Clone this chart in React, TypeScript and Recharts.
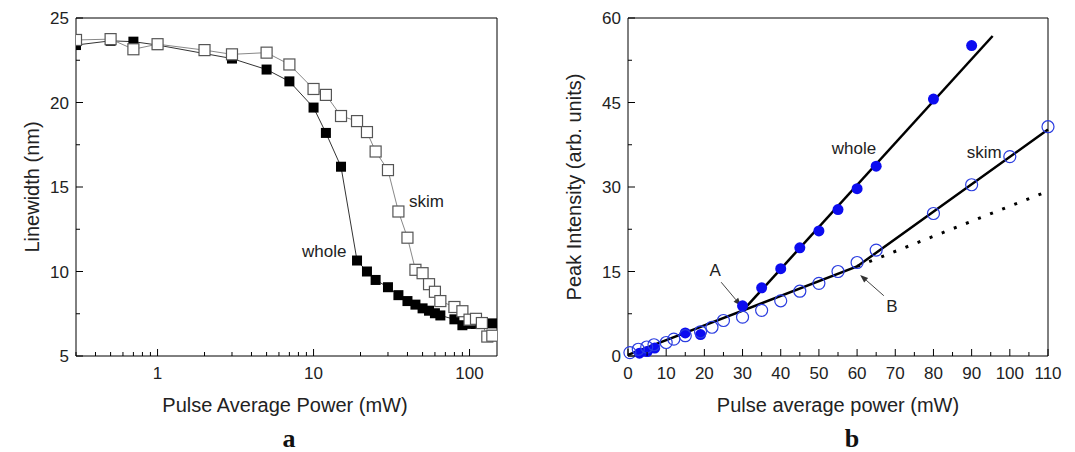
import { ComposedChart, Scatter, Line, XAxis, YAxis, ReferenceDot, ReferenceLine } from 'recharts'

// panel a: linewidth vs pulse average power (log x)
const wholePowerA = [0.3, 0.5, 0.7, 1, 3, 5, 7, 10, 12, 15, 19, 22, 25, 30, 35, 40, 45, 50, 55, 60, 65, 80, 90, 100, 110, 120, 140]
const wholeWidthA = [23.4, 23.65, 23.6, 23.4, 22.6, 21.95, 21.25, 19.7, 18.2, 16.2, 10.65, 10.0, 9.5, 9.07, 8.6, 8.25, 8.04, 7.82, 7.68, 7.53, 7.4, 7.17, 6.82, 6.9, 6.9, 6.9, 6.93]
const skimPowerA = [0.3, 0.5, 0.7, 1, 2, 3, 5, 7, 10, 12, 15, 19, 22, 25, 30, 35, 40, 45, 50, 55, 60, 65, 80, 90, 100, 110, 120, 130, 140]
const skimWidthA = [23.7, 23.75, 23.15, 23.45, 23.1, 22.85, 22.95, 22.25, 20.8, 20.45, 19.2, 18.9, 18.25, 17.1, 16.0, 13.55, 12.0, 10.1, 9.9, 9.25, 8.8, 8.25, 7.9, 7.65, 7.15, 7.2, 6.95, 6.15, 6.2]

const xTicksA = [0.3, 0.4, 0.5, 0.6, 0.7, 0.8, 0.9, 1, 2, 3, 4, 5, 6, 7, 8, 9, 10, 20, 30, 40, 50, 60, 70, 80, 90, 100]
const xLabelsA = [1, 10, 100]
const yTicksA = [5, 7.5, 10, 12.5, 15, 17.5, 20, 22.5, 25]
const yLabelsA = [5, 10, 15, 20, 25]

// panel b: peak intensity vs pulse average power
const wholePowerB = [3, 5, 7, 15, 19, 30, 35, 40, 45, 50, 55, 60, 65, 80, 90]
const wholeIntB = [0.5, 0.8, 1.4, 4.1, 3.8, 8.9, 12.1, 15.5, 19.2, 22.2, 26.0, 29.7, 33.7, 45.6, 55.1]
const skimPowerB = [0.5, 2.7, 4.9, 6.8, 10, 12, 15, 19, 22, 25, 30, 35, 40, 45, 50, 55, 60, 65, 80, 90, 100, 110]
const skimIntB = [0.6, 1.2, 1.6, 2.0, 2.4, 3.0, 3.6, 4.3, 5.1, 6.3, 6.9, 8.1, 9.8, 11.5, 12.9, 15.0, 16.6, 18.8, 25.3, 30.4, 35.4, 40.7]

const wholeFitX = [30, 95.5]
const wholeFitY = [8.0, 56.8]
const skimFitX = [0, 60, 110]
const skimFitY = [0.2, 15.9, 40.2]
const extrapX = [60, 109]
const extrapY = [15.9, 29.0]

const xTicksB = [0, 5, 10, 15, 20, 25, 30, 35, 40, 45, 50, 55, 60, 65, 70, 75, 80, 85, 90, 95, 100, 105, 110]
const xLabelsB = [0, 10, 20, 30, 40, 50, 60, 70, 80, 90, 100, 110]
const yTicksB = [0, 7.5, 15, 22.5, 30, 37.5, 45, 52.5, 60]
const yLabelsB = [0, 15, 30, 45, 60]

const zip = (xs: number[], ys: number[]) => xs.map((x, i) => ({ x, y: ys[i] }))

const wholeA = zip(wholePowerA, wholeWidthA)
const skimA = zip(skimPowerA, skimWidthA)
const wholeB = zip(wholePowerB, wholeIntB)
const skimB = zip(skimPowerB, skimIntB)
const wholeFit = zip(wholeFitX, wholeFitY)
const skimFit = zip(skimFitX, skimFitY)
const extrap = zip(extrapX, extrapY)

const FONT = 'Arial, "Liberation Sans", sans-serif'
const H = 452
const TOP = 18
const BOTTOM_Y = 356

function xTick(labels: number[]) {
  return (p: any) => {
    const major = labels.includes(p.payload.value)
    return (
      <g>
        <line x1={p.x} x2={p.x} y1={BOTTOM_Y} y2={BOTTOM_Y - (major ? 7 : 4)} stroke='#000' strokeWidth={1} />
        {major && (
          <text x={p.x} y={BOTTOM_Y + 23} textAnchor='middle' fontSize={17} fontFamily={FONT} fill='#222'>
            {p.payload.value}
          </text>
        )}
      </g>
    )
  }
}

function yTick(labels: number[], axisX: number) {
  return (p: any) => {
    const major = labels.includes(p.payload.value)
    return (
      <g>
        <line x1={axisX} x2={axisX + (major ? 7 : 4)} y1={p.y} y2={p.y} stroke='#000' strokeWidth={1} />
        {major && (
          <text x={axisX - 7} y={p.y + 6} textAnchor='end' fontSize={17} fontFamily={FONT} fill='#222'>
            {p.payload.value}
          </text>
        )}
      </g>
    )
  }
}

const filledSquare = (p: any) => <rect x={p.cx - 5} y={p.cy - 5} width={10} height={10} fill='#000' />
const openSquare = (p: any) => (
  <rect x={p.cx - 5.5} y={p.cy - 5.5} width={11} height={11} fill='#fff' stroke='#555' strokeWidth={1.2} />
)
const filledCircle = (p: any) => <circle cx={p.cx} cy={p.cy} r={5.5} fill='#0c0cf0' />
const openCircle = (p: any) => <circle cx={p.cx} cy={p.cy} r={6} fill='none' stroke='#2b3de0' strokeWidth={1.2} />

const arrow = (p: any) => {
  const { x1, y1, x2, y2 } = p
  const a = Math.atan2(y2 - y1, x2 - x1)
  const L = 8
  const w = 3
  const bx = x2 - L * Math.cos(a)
  const by = y2 - L * Math.sin(a)
  const pts = `${x2},${y2} ${bx - w * Math.sin(a)},${by + w * Math.cos(a)} ${bx + w * Math.sin(a)},${by - w * Math.cos(a)}`
  return (
    <g>
      <line x1={x1} y1={y1} x2={bx} y2={by} stroke='#444' strokeWidth={1} />
      <polygon points={pts} fill='#333' />
    </g>
  )
}

const lbl = (value: string) => ({ value, position: 'center' as const, fontSize: 17, fill: '#222', fontFamily: FONT })

function Title({ x, y, text, rotate, style }: { x: number; y: number; text: string; rotate?: boolean; style?: any }) {
  return (
    <div
      style={{
        position: 'absolute',
        left: x,
        top: y,
        transform: `translate(-50%, -50%)${rotate ? ' rotate(-90deg)' : ''}`,
        whiteSpace: 'nowrap',
        fontFamily: FONT,
        fontSize: 20,
        lineHeight: 1,
        color: '#222',
        ...style,
      }}
    >
      {text}
    </div>
  )
}

// axes are 1px wide/high (recharts skips 0-sized axes), margins take the rest
function PanelA() {
  const left = 76
  return (
    <ComposedChart width={540} height={H} margin={{ top: TOP - 1, left: left - 1, right: 42, bottom: H - BOTTOM_Y - 1 }}>
      <XAxis
        dataKey='x'
        type='number'
        scale='log'
        domain={[0.3, 150]}
        ticks={xTicksA}
        height={1}
        stroke='#000'
        tickLine={false}
        tick={xTick(xLabelsA)}
        interval={0}
        allowDataOverflow
      />
      <XAxis xAxisId='top' orientation='top' type='number' scale='log' domain={[0.3, 150]} height={1} stroke='#000' tick={false} tickLine={false} allowDataOverflow />
      <YAxis dataKey='y' type='number' domain={[5, 25]} ticks={yTicksA} width={1} stroke='#000' tickLine={false} tick={yTick(yLabelsA, left)} interval={0} />
      <YAxis yAxisId='right' orientation='right' type='number' domain={[5, 25]} width={1} stroke='#000' tick={false} tickLine={false} />
      <Scatter data={wholeA} shape={filledSquare} line={{ stroke: '#333', strokeWidth: 1 }} lineType='joint' isAnimationActive={false} />
      <Scatter data={skimA} shape={openSquare} line={{ stroke: '#888', strokeWidth: 1 }} lineType='joint' isAnimationActive={false} />
      <ReferenceDot x={11.7} y={11.2} r={0} fill='none' stroke='none' label={lbl('whole')} />
      <ReferenceDot x={53} y={14.2} r={0} fill='none' stroke='none' label={lbl('skim')} />
    </ComposedChart>
  )
}

function PanelB() {
  const left = 88
  return (
    <ComposedChart width={535} height={H} margin={{ top: TOP - 1, left: left - 1, right: 26, bottom: H - BOTTOM_Y - 1 }}>
      <XAxis
        dataKey='x'
        type='number'
        domain={[0, 110]}
        ticks={xTicksB}
        height={1}
        stroke='#000'
        tickLine={false}
        tick={xTick(xLabelsB)}
        interval={0}
      />
      <XAxis xAxisId='top' orientation='top' type='number' domain={[0, 110]} height={1} stroke='#000' tick={false} tickLine={false} />
      <YAxis dataKey='y' type='number' domain={[0, 60]} ticks={yTicksB} width={1} stroke='#000' tickLine={false} tick={yTick(yLabelsB, left)} interval={0} />
      <YAxis yAxisId='right' orientation='right' type='number' domain={[0, 60]} width={1} stroke='#000' tick={false} tickLine={false} />
      <Scatter data={wholeB} shape={filledCircle} isAnimationActive={false} />
      <Scatter data={skimB} shape={openCircle} isAnimationActive={false} />
      <Line data={wholeFit} dataKey='y' stroke='#000' strokeWidth={2.5} dot={false} type='linear' isAnimationActive={false} />
      <Line data={skimFit} dataKey='y' stroke='#000' strokeWidth={2.5} dot={false} type='linear' isAnimationActive={false} />
      <Line data={extrap} dataKey='y' stroke='#000' strokeWidth={3} strokeDasharray='3 10' dot={false} type='linear' isAnimationActive={false} />
      <ReferenceLine segment={[{ x: 24.4, y: 13.1 }, { x: 29.6, y: 8.9 }]} shape={arrow} />
      <ReferenceLine segment={[{ x: 67.0, y: 10.7 }, { x: 60.8, y: 14.4 }]} shape={arrow} />
      <ReferenceDot x={22.8} y={15.3} r={0} fill='none' stroke='none' label={lbl('A')} />
      <ReferenceDot x={69.1} y={8.9} r={0} fill='none' stroke='none' label={lbl('B')} />
      <ReferenceDot x={59.2} y={36.9} r={0} fill='none' stroke='none' label={lbl('whole')} />
      <ReferenceDot x={93.3} y={36.2} r={0} fill='none' stroke='none' label={lbl('skim')} />
    </ComposedChart>
  )
}

const letterStyle = { fontFamily: '"Liberation Serif", "Times New Roman", serif', fontWeight: 'bold', fontSize: 26, color: '#111' }

export default function App() {
  return (
    <div style={{ position: 'absolute', left: 0, top: 0, width: 1075, height: H, background: '#fff', overflow: 'hidden' }}>
      <div style={{ position: 'absolute', left: 0, top: 0 }}>
        <PanelA />
      </div>
      <div style={{ position: 'absolute', left: 540, top: 0 }}>
        <PanelB />
      </div>
      <Title x={32} y={187} text='Linewidth (nm)' rotate />
      <Title x={285} y={405} text='Pulse Average Power (mW)' />
      <Title x={574} y={187} text='Peak Intensity (arb. units)' rotate />
      <Title x={838} y={405} text='Pulse average power (mW)' />
      <Title x={289} y={439} text='a' style={letterStyle} />
      <Title x={852} y={439} text='b' style={letterStyle} />
    </div>
  )
}
